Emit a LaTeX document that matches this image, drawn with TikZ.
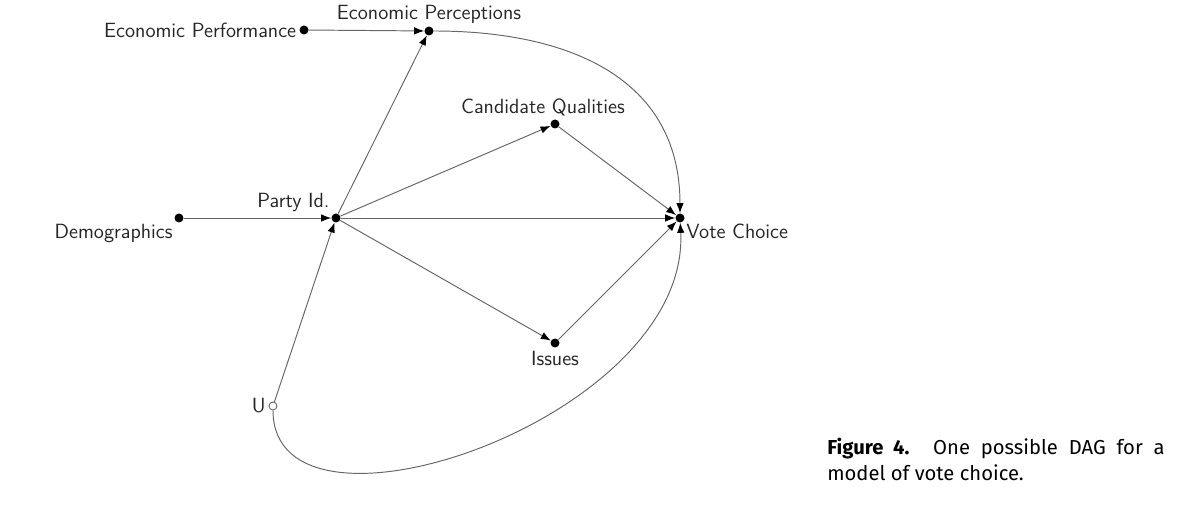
\documentclass[tikz,border=0pt]{standalone}
\usepackage{fontspec}
\newfontfamily\captionfont{Fira Sans}
\usepackage{tikz}
\usetikzlibrary{arrows.meta}

\begin{document}
\begin{tikzpicture}[
  x=0.02cm, y=-0.02cm,
  var/.style={circle, fill=black, inner sep=0pt, minimum size=0.18cm},
  latent/.style={circle, draw=black!60, fill=white, inner sep=0pt, minimum size=0.16cm, line width=0.5pt},
  arrow/.style={-{Latex[length=0.2cm, width=0.15cm, color=black]}, draw=black!60, line width=0.55pt},
  every label/.style={font=\fontsize{11.7}{14}\selectfont\sffamily, text=black!85, inner sep=1.5pt},
  label distance=0pt,
  caption/.style={text width=192pt, align=justify, inner sep=0pt, font=\captionfont\fontsize{11.5}{14.7}\selectfont}
]
  \useasboundingbox (0,0) rectangle (1200,509);

  % variables
  \node[var, label=left:Economic Performance] (perf) at (304,30) {};
  \node[var, label=above:Economic Perceptions] (perc) at (429,31) {};
  \node[var, label={[xshift=-0.24cm]above:Candidate Qualities}] (cand) at (555,124) {};
  \node[var, label=below left:Demographics] (demo) at (179,218) {};
  \node[var, label=above left:Party Id.] (party) at (336,218) {};
  \node[var, label=below right:Vote Choice] (vote) at (680,218) {};
  \node[var, label=below:Issues] (issues) at (555,343) {};
  \node[latent, label=left:U] (u) at (273,406) {};

  % edges
  \draw[arrow] (perf) -- (perc);
  \draw[arrow] (party) -- (perc);
  \draw[arrow] (demo) -- (party);
  \draw[arrow] (u) -- (party);
  \draw[arrow] (party) -- (cand);
  \draw[arrow] (party) -- (vote);
  \draw[arrow] (party) -- (issues);
  \draw[arrow] (cand) -- (vote);
  \draw[arrow] (issues) -- (vote);
  \draw[arrow] (perc) .. controls +(140,0) and +(0,-140) .. (vote);
  \draw[arrow] (u) .. controls +(0,154) and +(10,202) .. (vote);

  \node[caption, anchor=north west] (cap) at (827,438)
    {\textbf{Figure 4.} One possible DAG for a\linebreak model of vote choice.};
\end{tikzpicture}
\end{document}
